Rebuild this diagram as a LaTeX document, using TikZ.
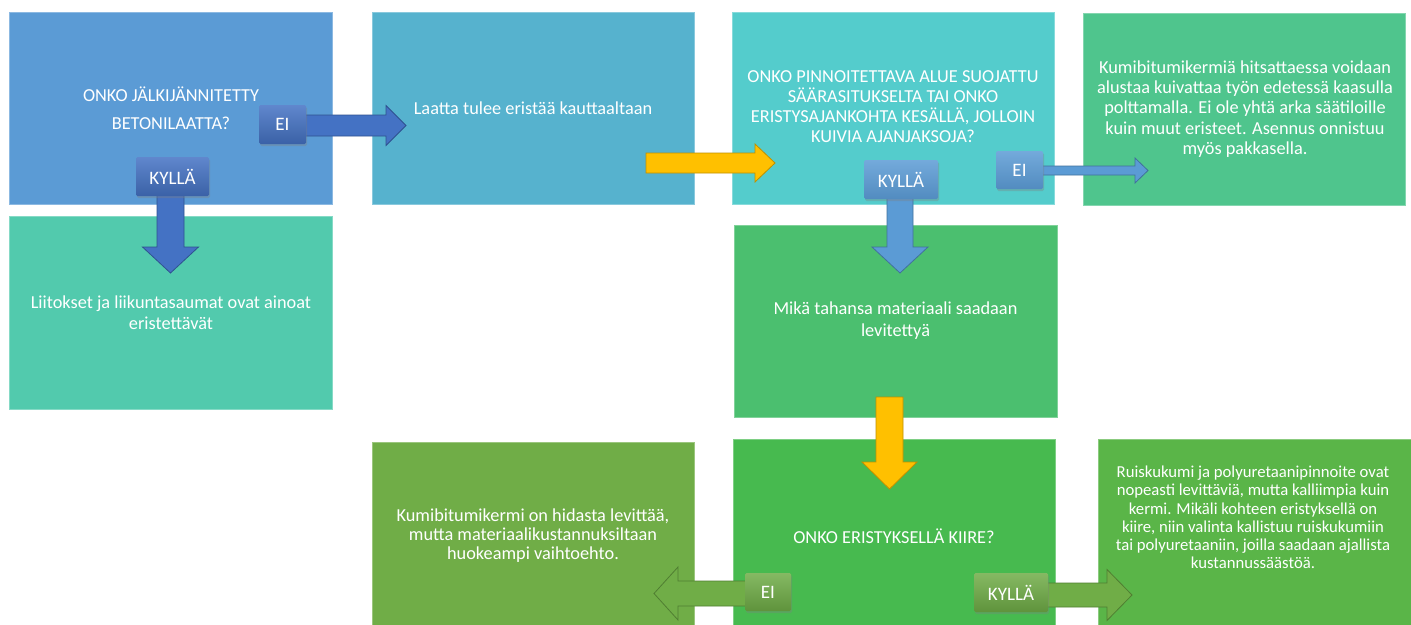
\documentclass[tikz,border=0pt]{standalone}
\usepackage{fontspec}
\setmainfont{Carlito}
\usetikzlibrary{calc,shadows}
\definecolor{cA}{HTML}{5B9BD5}
\definecolor{cB}{HTML}{56B2CE}
\definecolor{cC}{HTML}{54CCCC}
\definecolor{cD}{HTML}{4FC58D}
\definecolor{cE}{HTML}{52CAAD}
\definecolor{cF}{HTML}{4BBF6F}
\definecolor{cG}{HTML}{70AD47}
\definecolor{cH}{HTML}{47BA4F}
\definecolor{cI}{HTML}{5AB548}
\definecolor{arBlue}{HTML}{4472C4}
\definecolor{arBlueD}{HTML}{2F528F}
\definecolor{arLblue}{HTML}{5B9BD5}
\definecolor{arLblueD}{HTML}{41719C}
\definecolor{arYel}{HTML}{FFC000}
\definecolor{arYelD}{HTML}{BF9000}
\definecolor{arGrn}{HTML}{70AD47}
\definecolor{arGrnD}{HTML}{507E32}
\newcommand\rightblock[6]{% style, start, tip, shaft hw, head hw, head len
  \draw[#1] ($(#3 -| #2)+(0,#4)$) -- ($(#3)+(-#6,#4)$) -- ($(#3)+(-#6,#5)$) -- (#3)
    -- ($(#3)+(-#6,-#5)$) -- ($(#3)+(-#6,-#4)$) -- ($(#3 -| #2)+(0,-#4)$) -- cycle;}
\newcommand\leftblock[6]{%
  \draw[#1] ($(#3 -| #2)+(0,#4)$) -- ($(#3)+(#6,#4)$) -- ($(#3)+(#6,#5)$) -- (#3)
    -- ($(#3)+(#6,-#5)$) -- ($(#3)+(#6,-#4)$) -- ($(#3 -| #2)+(0,-#4)$) -- cycle;}
\newcommand\downblock[6]{%
  \draw[#1] ($(#3 |- #2)+(#4,0)$) -- ($(#3)+(#4,-#6)$) -- ($(#3)+(#5,-#6)$) -- (#3)
    -- ($(#3)+(-#5,-#6)$) -- ($(#3)+(-#4,-#6)$) -- ($(#3 |- #2)+(-#4,0)$) -- cycle;}
\begin{document}
\begin{tikzpicture}[x=1pt,y=-1pt,
  box/.style={rectangle, inner sep=0pt, outer sep=0pt, line width=0.6pt},
  txt/.style={text=white, align=center, inner sep=0pt},
  tag/.style={rectangle, rounded corners=1.5pt, inner sep=0pt, outer sep=0pt,
    text=white, font=\fontsize{19}{20}\selectfont,
    drop shadow={shadow xshift=1pt, shadow yshift=-2pt, opacity=0.35}},
  tagdark/.style={tag, top color=arBlue!85!white, bottom color=arBlue!85!black},
  taglight/.style={tag, top color=arLblue!85!white, bottom color=arLblue!90!black},
  taggreen/.style={tag, top color=arGrn!85!white, bottom color=arGrn!85!black},
  arblue/.style={fill=arBlue, draw=arBlueD, line width=0.8pt, line join=miter},
  arlblue/.style={fill=arLblue, draw=arLblueD, line width=0.8pt},
  aryel/.style={fill=arYel, draw=arYelD, line width=0.8pt},
  argrn/.style={fill=arGrn, draw=arGrnD, line width=0.8pt}
]
\useasboundingbox (0,0) rectangle (1411,624);
\clip (0,0) rectangle (1411,624);
\fill[white] (0,0) rectangle (1411,624);

% boxes
\node[box, fill=cA, draw=cA!70!white, minimum width=322.5, minimum height=192] (boxA) at (170.75,108) {};
\node[box, fill=cB, draw=cB!70!white, minimum width=322, minimum height=192] (boxB) at (533,108) {};
\node[box, fill=cC, draw=cC!70!white, minimum width=322, minimum height=192] (boxC) at (893,108) {};
\node[box, fill=cD, draw=cD!70!white, minimum width=322, minimum height=192] (boxD) at (1244,109) {};
\node[box, fill=cE, draw=cE!70!white, minimum width=322.5, minimum height=193] (boxE) at (170.75,312.5) {};
\node[box, fill=cF, draw=cF!70!white, minimum width=323, minimum height=192] (boxF) at (895.5,321) {};
\node[box, fill=cG, draw=cG!70!white, minimum width=322, minimum height=192] (boxG) at (533,538) {};
\node[box, fill=cH, draw=cH!70!white, minimum width=322, minimum height=192] (boxH) at (894,535) {};
\node[box, fill=cI, draw=cI!70!white, minimum width=322, minimum height=192] (boxI) at (1259,535) {};

% texts
\node[txt, font=\fontsize{18.3}{28}\selectfont] (tA) at (171,108) {ONKO JÄLKIJÄNNITETTY\\BETONILAATTA?};
\node[txt, font=\fontsize{18.3}{20}\selectfont] (tB) at (533,108) {Laatta tulee eristää kauttaaltaan};
\node[txt, font=\fontsize{18.3}{20}\selectfont] (tC) at (893,107) {ONKO PINNOITETTAVA ALUE SUOJATTU\\SÄÄRASITUKSELTA TAI ONKO\\ERISTYSAJANKOHTA KESÄLLÄ, JOLLOIN\\KUIVIA AJANJAKSOJA?};
\node[txt, font=\fontsize{18.3}{20.3}\selectfont] (tD) at (1245,109) {Kumibitumikermiä hitsattaessa voidaan\\alustaa kuivattaa työn edetessä kaasulla\\polttamalla. Ei ole yhtä arka säätiloille\\kuin muut eristeet. Asennus onnistuu\\myös pakkasella.};
\node[txt, font=\fontsize{18.3}{21}\selectfont] (tE) at (171,312.5) {Liitokset ja liikuntasaumat ovat ainoat\\eristettävät};
\node[txt, font=\fontsize{18.3}{22}\selectfont] (tF) at (895.5,321) {Mikä tahansa materiaali saadaan\\levitettyä};
\node[txt, font=\fontsize{18.3}{19}\selectfont] (tG) at (533,536) {Kumibitumikermi on hidasta levittää,\\mutta materiaalikustannuksiltaan\\huokeampi vaihtoehto.};
\node[txt, font=\fontsize{18.3}{20}\selectfont] (tH) at (894,536) {ONKO ERISTYKSELLÄ KIIRE?};
\node[txt, font=\fontsize{16.7}{18.3}\selectfont] (tI) at (1253,517.5) {Ruiskukumi ja polyuretaanipinnoite ovat\\nopeasti levittäviä, mutta kalliimpia kuin\\kermi. Mikäli kohteen eristyksellä on\\kiire, niin valinta kallistuu ruiskukumiin\\tai polyuretaaniin, joilla saadaan ajallista\\kustannussäästöä.};

% tag positions (drawn later), coordinates for arrows
\coordinate (posEiA) at (282.5,124.5);
\coordinate (posKyA) at (172.5,176.5);
\coordinate (posKyC) at (901,179.5);
\coordinate (posEiC) at (1019.5,170);
\coordinate (posEiH) at (768,592);
\coordinate (posKyH) at (1011,592.5);

\coordinate (tipA1) at (406,125.5);
\coordinate (tipA2) at (170.5,273);
\coordinate (tipC1) at (1148,170.5);
\coordinate (tipC2) at (900,273);
\coordinate (tipH1) at (654,593.5);
\coordinate (tipH2) at (1132,595);
\coordinate (yelS1) at (646,163);
\coordinate (yelT1) at (775,163);
\coordinate (yelS2) at (889.5,397);
\coordinate (yelT2) at (889.5,489);

% block arrows
\rightblock{arblue}{posEiA}{tipA1}{10.5}{20}{20}
\downblock{arblue}{posKyA}{tipA2}{13.5}{28}{26}
\rightblock{aryel}{yelS1}{yelT1}{10}{19}{20}
\rightblock{arlblue}{posEiC}{tipC1}{4.5}{12.5}{13}
\downblock{arlblue}{posKyC}{tipC2}{13}{28}{26}
\downblock{aryel}{yelS2}{yelT2}{13.5}{27.5}{27}
\leftblock{argrn}{posEiH}{tipH1}{12.5}{26.5}{24}
\rightblock{argrn}{posKyH}{tipH2}{12}{25.5}{25}

% tags
\node[tagdark, minimum width=47, minimum height=39] (eiA) at (posEiA) {EI};
\node[tagdark, minimum width=73, minimum height=39] (kyA) at (posKyA) {KYLLÄ};
\node[taglight, minimum width=74, minimum height=39] (kyC) at (posKyC) {KYLLÄ};
\node[taglight, minimum width=47, minimum height=38] (eiC) at (posEiC) {EI};
\node[taggreen, minimum width=46, minimum height=38] (eiH) at (posEiH) {EI};
\node[taggreen, minimum width=74, minimum height=39] (kyH) at (posKyH) {KYLLÄ};
\end{tikzpicture}
\end{document}
